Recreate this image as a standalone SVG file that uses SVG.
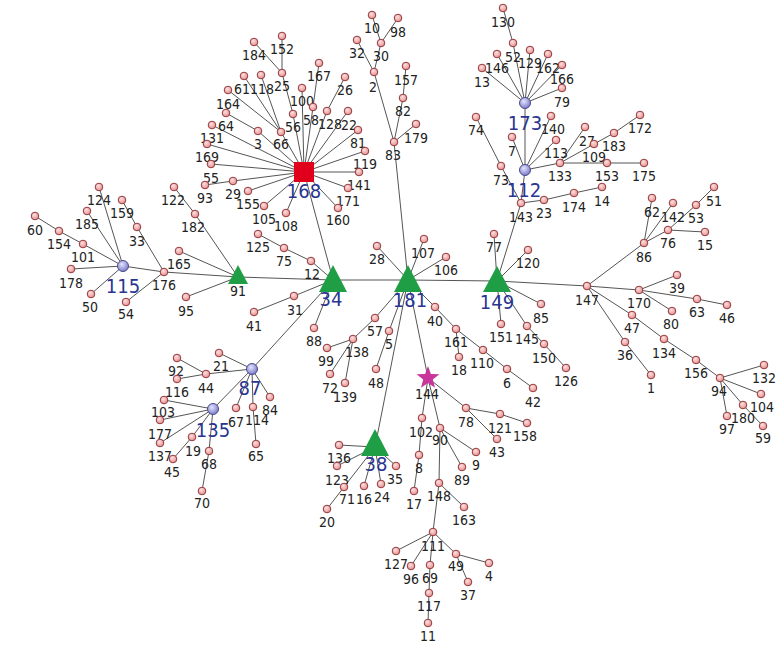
<svg xmlns="http://www.w3.org/2000/svg" width="782" height="650" viewBox="0 0 782 650">
<defs>
<radialGradient id="gp" cx="0.4" cy="0.35" r="0.7"><stop offset="0" stop-color="#fde0e0"/><stop offset="1" stop-color="#e48a8a"/></radialGradient>
<radialGradient id="gb" cx="0.4" cy="0.35" r="0.7"><stop offset="0" stop-color="#e4e4ff"/><stop offset="1" stop-color="#7474c4"/></radialGradient>
</defs>
<style>
.n circle{fill:url(#gp);stroke:#93393b;stroke-width:1}
.b circle{fill:url(#gb);stroke:#4a4a8c;stroke-width:1}
text{font-family:"Liberation Sans Narrow","DejaVu Sans Condensed","Liberation Sans",sans-serif;text-anchor:middle}
.n text{font-size:14px;fill:#222}
.bl{font-size:20px;fill:#2a3590}
.tri{fill:#1f9e45}
#edges line{stroke:#555;stroke-width:1}
</style>
<rect width="782" height="650" fill="#fff"/>
<g id="edges">
<line x1="35" y1="216" x2="59" y2="231"/><line x1="59" y1="231" x2="83" y2="244"/><line x1="83" y1="244" x2="123" y2="266"/><line x1="87" y1="211" x2="123" y2="266"/><line x1="99" y1="187" x2="123" y2="266"/><line x1="71" y1="269" x2="123" y2="266"/><line x1="91" y1="294" x2="123" y2="266"/><line x1="123" y1="266" x2="164" y2="272"/><line x1="122" y1="200" x2="137" y2="227"/><line x1="137" y1="227" x2="164" y2="272"/><line x1="126" y1="302" x2="164" y2="272"/><line x1="164" y1="272" x2="238" y2="277"/><line x1="179" y1="251" x2="238" y2="277"/><line x1="186" y1="297" x2="238" y2="277"/><line x1="195" y1="214" x2="238" y2="277"/><line x1="174" y1="187" x2="195" y2="214"/><line x1="238" y1="277" x2="333" y2="280"/>
<line x1="254" y1="42" x2="282" y2="73"/><line x1="282" y1="36" x2="282" y2="73"/><line x1="282" y1="73" x2="293" y2="114"/><line x1="293" y1="114" x2="304" y2="172"/><line x1="319" y1="63" x2="313" y2="107"/><line x1="313" y1="107" x2="304" y2="172"/><line x1="302" y1="88" x2="304" y2="172"/><line x1="345" y1="77" x2="327" y2="111"/><line x1="327" y1="111" x2="304" y2="172"/><line x1="348" y1="111" x2="304" y2="172"/><line x1="358" y1="130" x2="304" y2="172"/><line x1="365" y1="151" x2="304" y2="172"/><line x1="359" y1="172" x2="304" y2="172"/><line x1="348" y1="188" x2="304" y2="172"/><line x1="338" y1="208" x2="304" y2="172"/><line x1="286" y1="213" x2="304" y2="172"/><line x1="264" y1="206" x2="304" y2="172"/><line x1="248" y1="191" x2="304" y2="172"/><line x1="233" y1="181" x2="304" y2="172"/><line x1="205" y1="185" x2="233" y2="181"/><line x1="211" y1="164" x2="304" y2="172"/><line x1="207" y1="144" x2="304" y2="172"/><line x1="212" y1="125" x2="304" y2="172"/><line x1="226" y1="113" x2="258" y2="131"/><line x1="258" y1="131" x2="304" y2="172"/><line x1="228" y1="90" x2="281" y2="132"/><line x1="244" y1="76" x2="281" y2="132"/><line x1="261" y1="75" x2="281" y2="132"/><line x1="281" y1="132" x2="304" y2="172"/><line x1="304" y1="172" x2="333" y2="280"/>
<line x1="258" y1="234" x2="284" y2="248"/><line x1="284" y1="248" x2="311" y2="261"/><line x1="311" y1="261" x2="333" y2="280"/><line x1="254" y1="312" x2="294" y2="296"/><line x1="294" y1="296" x2="333" y2="280"/><line x1="314" y1="328" x2="333" y2="280"/><line x1="252" y1="369" x2="333" y2="280"/><line x1="333" y1="280" x2="408" y2="280"/><line x1="377" y1="246" x2="408" y2="280"/><line x1="375" y1="318" x2="408" y2="280"/><line x1="375" y1="318" x2="353" y2="339"/><line x1="327" y1="348" x2="353" y2="339"/><line x1="330" y1="374" x2="353" y2="339"/><line x1="345" y1="383" x2="353" y2="339"/><line x1="389" y1="331" x2="408" y2="280"/><line x1="376" y1="369" x2="389" y2="331"/><line x1="375" y1="447" x2="408" y2="280"/>
<line x1="219" y1="353" x2="252" y2="369"/><line x1="206" y1="374" x2="252" y2="369"/><line x1="177" y1="358" x2="206" y2="374"/><line x1="177" y1="379" x2="206" y2="374"/><line x1="270" y1="397" x2="252" y2="369"/><line x1="253" y1="407" x2="252" y2="369"/><line x1="236" y1="408" x2="252" y2="369"/><line x1="256" y1="444" x2="253" y2="407"/><line x1="213" y1="409" x2="252" y2="369"/><line x1="164" y1="400" x2="213" y2="409"/><line x1="160" y1="420" x2="213" y2="409"/><line x1="160" y1="443" x2="213" y2="409"/><line x1="192" y1="437" x2="213" y2="409"/><line x1="173" y1="459" x2="192" y2="437"/><line x1="209" y1="451" x2="213" y2="409"/><line x1="202" y1="491" x2="209" y2="451"/>
<line x1="339" y1="445" x2="375" y2="447"/><line x1="337" y1="466" x2="375" y2="447"/><line x1="344" y1="487" x2="375" y2="447"/><line x1="327" y1="509" x2="344" y2="487"/><line x1="364" y1="486" x2="375" y2="447"/><line x1="381" y1="484" x2="375" y2="447"/><line x1="396" y1="466" x2="375" y2="447"/>
<line x1="424" y1="239" x2="408" y2="280"/><line x1="446" y1="257" x2="408" y2="280"/><line x1="435" y1="307" x2="408" y2="280"/><line x1="456" y1="329" x2="435" y2="307"/><line x1="459" y1="357" x2="456" y2="329"/><line x1="483" y1="350" x2="456" y2="329"/><line x1="507" y1="369" x2="483" y2="350"/><line x1="533" y1="388" x2="507" y2="369"/><line x1="428" y1="378" x2="408" y2="280"/><line x1="394" y1="142" x2="408" y2="280"/>
<line x1="466" y1="408" x2="428" y2="378"/><line x1="500" y1="414" x2="466" y2="408"/><line x1="527" y1="423" x2="500" y2="414"/><line x1="497" y1="439" x2="466" y2="408"/><line x1="422" y1="418" x2="428" y2="378"/><line x1="440" y1="428" x2="428" y2="378"/><line x1="419" y1="455" x2="422" y2="418"/><line x1="414" y1="491" x2="419" y2="455"/><line x1="476" y1="452" x2="440" y2="428"/><line x1="462" y1="467" x2="440" y2="428"/><line x1="439" y1="483" x2="440" y2="428"/><line x1="464" y1="507" x2="439" y2="483"/><line x1="433" y1="532" x2="439" y2="483"/><line x1="396" y1="551" x2="433" y2="532"/><line x1="411" y1="566" x2="433" y2="532"/><line x1="430" y1="565" x2="433" y2="532"/><line x1="456" y1="554" x2="433" y2="532"/><line x1="489" y1="563" x2="456" y2="554"/><line x1="468" y1="582" x2="456" y2="554"/><line x1="429" y1="593" x2="430" y2="565"/><line x1="428" y1="623" x2="429" y2="593"/>
<line x1="372" y1="15" x2="381" y2="43"/><line x1="398" y1="18" x2="381" y2="43"/><line x1="381" y1="43" x2="374" y2="72"/><line x1="357" y1="40" x2="374" y2="72"/><line x1="374" y1="72" x2="394" y2="142"/><line x1="406" y1="66" x2="403" y2="98"/><line x1="403" y1="98" x2="394" y2="142"/><line x1="416" y1="124" x2="394" y2="142"/>
<line x1="408" y1="280" x2="497" y2="281"/><line x1="497" y1="281" x2="587" y2="286"/><line x1="494" y1="234" x2="497" y2="281"/><line x1="528" y1="250" x2="497" y2="281"/><line x1="541" y1="304" x2="497" y2="281"/><line x1="501" y1="324" x2="497" y2="281"/><line x1="527" y1="326" x2="497" y2="281"/><line x1="544" y1="344" x2="527" y2="326"/><line x1="566" y1="368" x2="544" y2="344"/><line x1="521" y1="203" x2="497" y2="281"/><line x1="544" y1="200" x2="521" y2="203"/><line x1="574" y1="193" x2="544" y2="200"/><line x1="602" y1="187" x2="574" y2="193"/><line x1="501" y1="166" x2="521" y2="203"/><line x1="476" y1="117" x2="501" y2="166"/><line x1="525" y1="170" x2="521" y2="203"/><line x1="525" y1="170" x2="525" y2="103"/>
<line x1="503" y1="8" x2="513" y2="43"/><line x1="513" y1="43" x2="525" y2="103"/><line x1="497" y1="54" x2="525" y2="103"/><line x1="482" y1="68" x2="525" y2="103"/><line x1="530" y1="50" x2="525" y2="103"/><line x1="548" y1="54" x2="525" y2="103"/><line x1="562" y1="65" x2="525" y2="103"/><line x1="562" y1="88" x2="525" y2="103"/><line x1="512" y1="137" x2="525" y2="170"/><line x1="551" y1="116" x2="525" y2="170"/><line x1="556" y1="140" x2="525" y2="170"/><line x1="560" y1="163" x2="525" y2="170"/><line x1="585" y1="127" x2="560" y2="163"/><line x1="594" y1="144" x2="560" y2="163"/><line x1="607" y1="163" x2="560" y2="163"/><line x1="614" y1="133" x2="594" y2="144"/><line x1="640" y1="115" x2="614" y2="133"/><line x1="644" y1="163" x2="607" y2="163"/>
<line x1="644" y1="243" x2="587" y2="286"/><line x1="652" y1="198" x2="644" y2="243"/><line x1="673" y1="203" x2="644" y2="243"/><line x1="696" y1="205" x2="668" y2="230"/><line x1="714" y1="187" x2="696" y2="205"/><line x1="668" y1="230" x2="644" y2="243"/><line x1="705" y1="232" x2="668" y2="230"/><line x1="639" y1="290" x2="587" y2="286"/><line x1="677" y1="275" x2="639" y2="290"/><line x1="697" y1="299" x2="639" y2="290"/><line x1="727" y1="305" x2="697" y2="299"/><line x1="672" y1="311" x2="639" y2="290"/><line x1="632" y1="315" x2="587" y2="286"/><line x1="664" y1="339" x2="632" y2="315"/><line x1="696" y1="360" x2="664" y2="339"/><line x1="720" y1="378" x2="696" y2="360"/><line x1="764" y1="365" x2="720" y2="378"/><line x1="761" y1="394" x2="720" y2="378"/><line x1="743" y1="405" x2="720" y2="378"/><line x1="763" y1="426" x2="743" y2="405"/><line x1="727" y1="416" x2="720" y2="378"/><line x1="625" y1="342" x2="587" y2="286"/><line x1="651" y1="375" x2="625" y2="342"/>
</g>
<g id="nodes">
<g id="n60" class="n"><circle cx="35" cy="216" r="3.8"/><text x="35" y="235">60</text></g>
<g id="n154" class="n"><circle cx="59" cy="231" r="3.8"/><text x="59" y="249">154</text></g>
<g id="n185" class="n"><circle cx="87" cy="211" r="3.8"/><text x="87" y="229">185</text></g>
<g id="n101" class="n"><circle cx="83" cy="244" r="3.8"/><text x="83" y="262">101</text></g>
<g id="n178" class="n"><circle cx="71" cy="269" r="3.8"/><text x="71" y="288">178</text></g>
<g id="n124" class="n"><circle cx="99" cy="187" r="3.8"/><text x="99" y="205">124</text></g>
<g id="n159" class="n"><circle cx="122" cy="200" r="3.8"/><text x="122" y="218">159</text></g>
<g id="n33" class="n"><circle cx="137" cy="227" r="3.8"/><text x="137" y="246">33</text></g>
<g id="n50" class="n"><circle cx="91" cy="294" r="3.8"/><text x="90" y="312">50</text></g>
<g id="n54" class="n"><circle cx="126" cy="302" r="3.8"/><text x="126" y="319">54</text></g>
<g id="n176" class="n"><circle cx="164" cy="272" r="3.8"/><text x="164" y="290">176</text></g>
<g id="n165" class="n"><circle cx="179" cy="251" r="3.8"/><text x="179" y="269">165</text></g>
<g id="n95" class="n"><circle cx="186" cy="297" r="3.8"/><text x="186" y="316">95</text></g>
<g id="n182" class="n"><circle cx="195" cy="214" r="3.8"/><text x="193" y="232">182</text></g>
<g id="n122" class="n"><circle cx="174" cy="187" r="3.8"/><text x="173" y="205">122</text></g>
<g id="n115" class="b"><circle cx="123" cy="266" r="5.5"/><text class="bl" x="123" y="293">115</text></g>
<g id="n91"><polygon class="tri" points="238,265 228,284 248,284"/><text x="238" y="296" style="font-size:14px;fill:#222">91</text></g>
<g id="n184" class="n"><circle cx="254" cy="42" r="3.8"/><text x="254" y="60">184</text></g>
<g id="n152" class="n"><circle cx="282" cy="36" r="3.8"/><text x="282" y="54">152</text></g>
<g id="n25" class="n"><circle cx="282" cy="73" r="3.8"/><text x="282" y="91">25</text></g>
<g id="n164" class="n"><circle cx="228" cy="90" r="3.8"/><text x="228" y="109">164</text></g>
<g id="n61" class="n"><circle cx="244" cy="76" r="3.8"/><text x="242" y="94">61</text></g>
<g id="n118" class="n"><circle cx="261" cy="75" r="3.8"/><text x="262" y="94">118</text></g>
<g id="n64" class="n"><circle cx="226" cy="113" r="3.8"/><text x="226" y="131">64</text></g>
<g id="n131" class="n"><circle cx="212" cy="125" r="3.8"/><text x="212" y="143">131</text></g>
<g id="n169" class="n"><circle cx="207" cy="144" r="3.8"/><text x="207" y="162">169</text></g>
<g id="n55" class="n"><circle cx="211" cy="164" r="3.8"/><text x="211" y="183">55</text></g>
<g id="n93" class="n"><circle cx="205" cy="185" r="3.8"/><text x="205" y="203">93</text></g>
<g id="n29" class="n"><circle cx="233" cy="181" r="3.8"/><text x="233" y="199">29</text></g>
<g id="n155" class="n"><circle cx="248" cy="191" r="3.8"/><text x="248" y="209">155</text></g>
<g id="n3" class="n"><circle cx="258" cy="131" r="3.8"/><text x="258" y="149">3</text></g>
<g id="n66" class="n"><circle cx="281" cy="132" r="3.8"/><text x="281" y="149">66</text></g>
<g id="n56" class="n"><circle cx="293" cy="114" r="3.8"/><text x="293" y="132">56</text></g>
<g id="n100" class="n"><circle cx="302" cy="88" r="3.8"/><text x="302" y="106">100</text></g>
<g id="n58" class="n"><circle cx="313" cy="107" r="3.8"/><text x="311" y="125">58</text></g>
<g id="n167" class="n"><circle cx="319" cy="63" r="3.8"/><text x="319" y="81">167</text></g>
<g id="n128" class="n"><circle cx="327" cy="111" r="3.8"/><text x="330" y="129">128</text></g>
<g id="n26" class="n"><circle cx="345" cy="77" r="3.8"/><text x="345" y="95">26</text></g>
<g id="n22" class="n"><circle cx="348" cy="111" r="3.8"/><text x="349" y="130">22</text></g>
<g id="n81" class="n"><circle cx="358" cy="130" r="3.8"/><text x="358" y="148">81</text></g>
<g id="n119" class="n"><circle cx="365" cy="151" r="3.8"/><text x="365" y="169">119</text></g>
<g id="n141" class="n"><circle cx="359" cy="172" r="3.8"/><text x="359" y="190">141</text></g>
<g id="n171" class="n"><circle cx="348" cy="188" r="3.8"/><text x="348" y="206">171</text></g>
<g id="n160" class="n"><circle cx="338" cy="208" r="3.8"/><text x="338" y="225">160</text></g>
<g id="n108" class="n"><circle cx="286" cy="213" r="3.8"/><text x="286" y="231">108</text></g>
<g id="n105" class="n"><circle cx="264" cy="206" r="3.8"/><text x="264" y="224">105</text></g>
<g id="n168"><rect x="294" y="162" width="20" height="20" fill="#e0001b"/><text class="bl" x="304" y="198">168</text></g>
<g id="n125" class="n"><circle cx="258" cy="234" r="3.8"/><text x="258" y="252">125</text></g>
<g id="n75" class="n"><circle cx="284" cy="248" r="3.8"/><text x="284" y="266">75</text></g>
<g id="n12" class="n"><circle cx="311" cy="261" r="3.8"/><text x="312" y="279">12</text></g>
<g id="n31" class="n"><circle cx="294" cy="296" r="3.8"/><text x="295" y="315">31</text></g>
<g id="n41" class="n"><circle cx="254" cy="312" r="3.8"/><text x="254" y="331">41</text></g>
<g id="n88" class="n"><circle cx="314" cy="328" r="3.8"/><text x="314" y="346">88</text></g>
<g id="n34"><polygon class="tri" points="333,265 319,292 347,292"/><text class="bl" x="331" y="306">34</text></g>
<g id="n28" class="n"><circle cx="377" cy="246" r="3.8"/><text x="377" y="264">28</text></g>
<g id="n57" class="n"><circle cx="375" cy="318" r="3.8"/><text x="375" y="336">57</text></g>
<g id="n138" class="n"><circle cx="353" cy="339" r="3.8"/><text x="357" y="357">138</text></g>
<g id="n99" class="n"><circle cx="327" cy="348" r="3.8"/><text x="326" y="366">99</text></g>
<g id="n72" class="n"><circle cx="330" cy="374" r="3.8"/><text x="330" y="393">72</text></g>
<g id="n139" class="n"><circle cx="345" cy="383" r="3.8"/><text x="345" y="402">139</text></g>
<g id="n5" class="n"><circle cx="389" cy="331" r="3.8"/><text x="389" y="349">5</text></g>
<g id="n48" class="n"><circle cx="376" cy="369" r="3.8"/><text x="376" y="388">48</text></g>
<g id="n87" class="b"><circle cx="252" cy="369" r="5.5"/><text class="bl" x="250" y="395">87</text></g>
<g id="n21" class="n"><circle cx="219" cy="353" r="3.8"/><text x="221" y="371">21</text></g>
<g id="n44" class="n"><circle cx="206" cy="374" r="3.8"/><text x="206" y="393">44</text></g>
<g id="n84" class="n"><circle cx="270" cy="397" r="3.8"/><text x="270" y="415">84</text></g>
<g id="n114" class="n"><circle cx="253" cy="407" r="3.8"/><text x="257" y="425">114</text></g>
<g id="n67" class="n"><circle cx="236" cy="408" r="3.8"/><text x="236" y="427">67</text></g>
<g id="n135" class="b"><circle cx="213" cy="409" r="5.5"/><text class="bl" x="213" y="437">135</text></g>
<g id="n92" class="n"><circle cx="177" cy="358" r="3.8"/><text x="176" y="376">92</text></g>
<g id="n116" class="n"><circle cx="177" cy="379" r="3.8"/><text x="177" y="397">116</text></g>
<g id="n103" class="n"><circle cx="164" cy="400" r="3.8"/><text x="163" y="417">103</text></g>
<g id="n177" class="n"><circle cx="160" cy="420" r="3.8"/><text x="160" y="439">177</text></g>
<g id="n137" class="n"><circle cx="160" cy="443" r="3.8"/><text x="160" y="461">137</text></g>
<g id="n19" class="n"><circle cx="192" cy="437" r="3.8"/><text x="193" y="456">19</text></g>
<g id="n45" class="n"><circle cx="173" cy="459" r="3.8"/><text x="172" y="477">45</text></g>
<g id="n68" class="n"><circle cx="209" cy="451" r="3.8"/><text x="209" y="469">68</text></g>
<g id="n70" class="n"><circle cx="202" cy="491" r="3.8"/><text x="202" y="508">70</text></g>
<g id="n65" class="n"><circle cx="256" cy="444" r="3.8"/><text x="256" y="461">65</text></g>
<g id="n38"><polygon class="tri" points="375,429 361,456 389,456"/><text class="bl" x="376" y="471">38</text></g>
<g id="n136" class="n"><circle cx="339" cy="445" r="3.8"/><text x="339" y="463">136</text></g>
<g id="n123" class="n"><circle cx="337" cy="466" r="3.8"/><text x="337" y="485">123</text></g>
<g id="n71" class="n"><circle cx="344" cy="487" r="3.8"/><text x="347" y="504">71</text></g>
<g id="n20" class="n"><circle cx="327" cy="509" r="3.8"/><text x="327" y="527">20</text></g>
<g id="n16" class="n"><circle cx="364" cy="486" r="3.8"/><text x="364" y="504">16</text></g>
<g id="n24" class="n"><circle cx="381" cy="484" r="3.8"/><text x="382" y="502">24</text></g>
<g id="n35" class="n"><circle cx="396" cy="466" r="3.8"/><text x="395" y="484">35</text></g>
<g id="n181"><polygon class="tri" points="408,265 394,292 422,292"/><text class="bl" x="410" y="307">181</text></g>
<g id="n107" class="n"><circle cx="424" cy="239" r="3.8"/><text x="423" y="258">107</text></g>
<g id="n106" class="n"><circle cx="446" cy="257" r="3.8"/><text x="446" y="275">106</text></g>
<g id="n40" class="n"><circle cx="435" cy="307" r="3.8"/><text x="435" y="326">40</text></g>
<g id="n161" class="n"><circle cx="456" cy="329" r="3.8"/><text x="456" y="347">161</text></g>
<g id="n18" class="n"><circle cx="459" cy="357" r="3.8"/><text x="459" y="375">18</text></g>
<g id="n110" class="n"><circle cx="483" cy="350" r="3.8"/><text x="482" y="368">110</text></g>
<g id="n6" class="n"><circle cx="507" cy="369" r="3.8"/><text x="507" y="388">6</text></g>
<g id="n42" class="n"><circle cx="533" cy="388" r="3.8"/><text x="533" y="407">42</text></g>
<g id="n144"><polygon fill="#c8369b" points="428,366 430.9,374 439.4,374.3 432.8,379.6 435,387.7 428,383 421,387.7 423.2,379.6 416.6,374.3 425.1,374"/><text x="427" y="399" style="font-size:14px;fill:#222">144</text></g>
<g id="n78" class="n"><circle cx="466" cy="408" r="3.8"/><text x="466" y="427">78</text></g>
<g id="n121" class="n"><circle cx="500" cy="414" r="3.8"/><text x="500" y="433">121</text></g>
<g id="n158" class="n"><circle cx="527" cy="423" r="3.8"/><text x="525" y="441">158</text></g>
<g id="n43" class="n"><circle cx="497" cy="439" r="3.8"/><text x="497" y="457">43</text></g>
<g id="n102" class="n"><circle cx="422" cy="418" r="3.8"/><text x="421" y="437">102</text></g>
<g id="n90" class="n"><circle cx="440" cy="428" r="3.8"/><text x="440" y="445">90</text></g>
<g id="n8" class="n"><circle cx="419" cy="455" r="3.8"/><text x="419" y="473">8</text></g>
<g id="n17" class="n"><circle cx="414" cy="491" r="3.8"/><text x="414" y="509">17</text></g>
<g id="n9" class="n"><circle cx="476" cy="452" r="3.8"/><text x="476" y="470">9</text></g>
<g id="n89" class="n"><circle cx="462" cy="467" r="3.8"/><text x="462" y="485">89</text></g>
<g id="n148" class="n"><circle cx="439" cy="483" r="3.8"/><text x="439" y="501">148</text></g>
<g id="n163" class="n"><circle cx="464" cy="507" r="3.8"/><text x="464" y="525">163</text></g>
<g id="n111" class="n"><circle cx="433" cy="532" r="3.8"/><text x="433" y="551">111</text></g>
<g id="n127" class="n"><circle cx="396" cy="551" r="3.8"/><text x="396" y="569">127</text></g>
<g id="n96" class="n"><circle cx="411" cy="566" r="3.8"/><text x="411" y="584">96</text></g>
<g id="n69" class="n"><circle cx="430" cy="565" r="3.8"/><text x="430" y="583">69</text></g>
<g id="n49" class="n"><circle cx="456" cy="554" r="3.8"/><text x="456" y="571">49</text></g>
<g id="n4" class="n"><circle cx="489" cy="563" r="3.8"/><text x="489" y="581">4</text></g>
<g id="n37" class="n"><circle cx="468" cy="582" r="3.8"/><text x="468" y="600">37</text></g>
<g id="n117" class="n"><circle cx="429" cy="593" r="3.8"/><text x="429" y="611">117</text></g>
<g id="n11" class="n"><circle cx="428" cy="623" r="3.8"/><text x="428" y="641">11</text></g>
<g id="n10" class="n"><circle cx="372" cy="15" r="3.8"/><text x="372" y="33">10</text></g>
<g id="n98" class="n"><circle cx="398" cy="18" r="3.8"/><text x="398" y="37">98</text></g>
<g id="n30" class="n"><circle cx="381" cy="43" r="3.8"/><text x="381" y="61">30</text></g>
<g id="n32" class="n"><circle cx="357" cy="40" r="3.8"/><text x="357" y="58">32</text></g>
<g id="n2" class="n"><circle cx="374" cy="72" r="3.8"/><text x="373" y="92">2</text></g>
<g id="n157" class="n"><circle cx="406" cy="66" r="3.8"/><text x="406" y="85">157</text></g>
<g id="n82" class="n"><circle cx="403" cy="98" r="3.8"/><text x="403" y="116">82</text></g>
<g id="n179" class="n"><circle cx="416" cy="124" r="3.8"/><text x="416" y="143">179</text></g>
<g id="n83" class="n"><circle cx="394" cy="142" r="3.8"/><text x="393" y="160">83</text></g>
<g id="n130" class="n"><circle cx="503" cy="8" r="3.8"/><text x="503" y="27">130</text></g>
<g id="n52" class="n"><circle cx="513" cy="43" r="3.8"/><text x="513" y="62">52</text></g>
<g id="n146" class="n"><circle cx="497" cy="54" r="3.8"/><text x="497" y="73">146</text></g>
<g id="n13" class="n"><circle cx="482" cy="68" r="3.8"/><text x="482" y="87">13</text></g>
<g id="n129" class="n"><circle cx="530" cy="50" r="3.8"/><text x="530" y="68">129</text></g>
<g id="n162" class="n"><circle cx="548" cy="54" r="3.8"/><text x="548" y="73">162</text></g>
<g id="n166" class="n"><circle cx="562" cy="65" r="3.8"/><text x="562" y="84">166</text></g>
<g id="n79" class="n"><circle cx="562" cy="88" r="3.8"/><text x="562" y="107">79</text></g>
<g id="n173" class="b"><circle cx="525" cy="103" r="5.5"/><text class="bl" x="525" y="130">173</text></g>
<g id="n74" class="n"><circle cx="476" cy="117" r="3.8"/><text x="476" y="135">74</text></g>
<g id="n73" class="n"><circle cx="501" cy="166" r="3.8"/><text x="501" y="185">73</text></g>
<g id="n7" class="n"><circle cx="512" cy="137" r="3.8"/><text x="512" y="156">7</text></g>
<g id="n140" class="n"><circle cx="551" cy="116" r="3.8"/><text x="553" y="134">140</text></g>
<g id="n113" class="n"><circle cx="556" cy="140" r="3.8"/><text x="556" y="158">113</text></g>
<g id="n133" class="n"><circle cx="560" cy="163" r="3.8"/><text x="560" y="181">133</text></g>
<g id="n112" class="b"><circle cx="525" cy="170" r="5.5"/><text class="bl" x="524" y="197">112</text></g>
<g id="n143" class="n"><circle cx="521" cy="203" r="3.8"/><text x="521" y="222">143</text></g>
<g id="n23" class="n"><circle cx="544" cy="200" r="3.8"/><text x="544" y="218">23</text></g>
<g id="n174" class="n"><circle cx="574" cy="193" r="3.8"/><text x="574" y="212">174</text></g>
<g id="n14" class="n"><circle cx="602" cy="187" r="3.8"/><text x="602" y="206">14</text></g>
<g id="n27" class="n"><circle cx="585" cy="127" r="3.8"/><text x="587" y="146">27</text></g>
<g id="n109" class="n"><circle cx="594" cy="144" r="3.8"/><text x="594" y="162">109</text></g>
<g id="n183" class="n"><circle cx="614" cy="133" r="3.8"/><text x="614" y="151">183</text></g>
<g id="n172" class="n"><circle cx="640" cy="115" r="3.8"/><text x="640" y="133">172</text></g>
<g id="n153" class="n"><circle cx="607" cy="163" r="3.8"/><text x="607" y="181">153</text></g>
<g id="n175" class="n"><circle cx="644" cy="163" r="3.8"/><text x="644" y="181">175</text></g>
<g id="n149"><polygon class="tri" points="497,266 483,292 511,292"/><text class="bl" x="497" y="309">149</text></g>
<g id="n77" class="n"><circle cx="494" cy="234" r="3.8"/><text x="494" y="252">77</text></g>
<g id="n120" class="n"><circle cx="528" cy="250" r="3.8"/><text x="528" y="268">120</text></g>
<g id="n85" class="n"><circle cx="541" cy="304" r="3.8"/><text x="541" y="323">85</text></g>
<g id="n151" class="n"><circle cx="501" cy="324" r="3.8"/><text x="501" y="342">151</text></g>
<g id="n145" class="n"><circle cx="527" cy="326" r="3.8"/><text x="527" y="344">145</text></g>
<g id="n150" class="n"><circle cx="544" cy="344" r="3.8"/><text x="544" y="363">150</text></g>
<g id="n126" class="n"><circle cx="566" cy="368" r="3.8"/><text x="566" y="386">126</text></g>
<g id="n147" class="n"><circle cx="587" cy="286" r="3.8"/><text x="587" y="305">147</text></g>
<g id="n62" class="n"><circle cx="652" cy="198" r="3.8"/><text x="652" y="217">62</text></g>
<g id="n142" class="n"><circle cx="673" cy="203" r="3.8"/><text x="673" y="222">142</text></g>
<g id="n53" class="n"><circle cx="696" cy="205" r="3.8"/><text x="696" y="223">53</text></g>
<g id="n51" class="n"><circle cx="714" cy="187" r="3.8"/><text x="714" y="206">51</text></g>
<g id="n86" class="n"><circle cx="644" cy="243" r="3.8"/><text x="644" y="262">86</text></g>
<g id="n76" class="n"><circle cx="668" cy="230" r="3.8"/><text x="668" y="248">76</text></g>
<g id="n15" class="n"><circle cx="705" cy="232" r="3.8"/><text x="705" y="250">15</text></g>
<g id="n170" class="n"><circle cx="639" cy="290" r="3.8"/><text x="639" y="308">170</text></g>
<g id="n39" class="n"><circle cx="677" cy="275" r="3.8"/><text x="677" y="293">39</text></g>
<g id="n63" class="n"><circle cx="697" cy="299" r="3.8"/><text x="697" y="317">63</text></g>
<g id="n46" class="n"><circle cx="727" cy="305" r="3.8"/><text x="727" y="323">46</text></g>
<g id="n80" class="n"><circle cx="672" cy="311" r="3.8"/><text x="671" y="329">80</text></g>
<g id="n47" class="n"><circle cx="632" cy="315" r="3.8"/><text x="632" y="333">47</text></g>
<g id="n134" class="n"><circle cx="664" cy="339" r="3.8"/><text x="664" y="358">134</text></g>
<g id="n156" class="n"><circle cx="696" cy="360" r="3.8"/><text x="696" y="378">156</text></g>
<g id="n94" class="n"><circle cx="720" cy="378" r="3.8"/><text x="719" y="396">94</text></g>
<g id="n132" class="n"><circle cx="764" cy="365" r="3.8"/><text x="764" y="383">132</text></g>
<g id="n104" class="n"><circle cx="761" cy="394" r="3.8"/><text x="762" y="412">104</text></g>
<g id="n180" class="n"><circle cx="743" cy="405" r="3.8"/><text x="743" y="423">180</text></g>
<g id="n59" class="n"><circle cx="763" cy="426" r="3.8"/><text x="763" y="443">59</text></g>
<g id="n97" class="n"><circle cx="727" cy="416" r="3.8"/><text x="727" y="434">97</text></g>
<g id="n36" class="n"><circle cx="625" cy="342" r="3.8"/><text x="625" y="360">36</text></g>
<g id="n1" class="n"><circle cx="651" cy="375" r="3.8"/><text x="651" y="393">1</text></g>
</g>
</svg>
